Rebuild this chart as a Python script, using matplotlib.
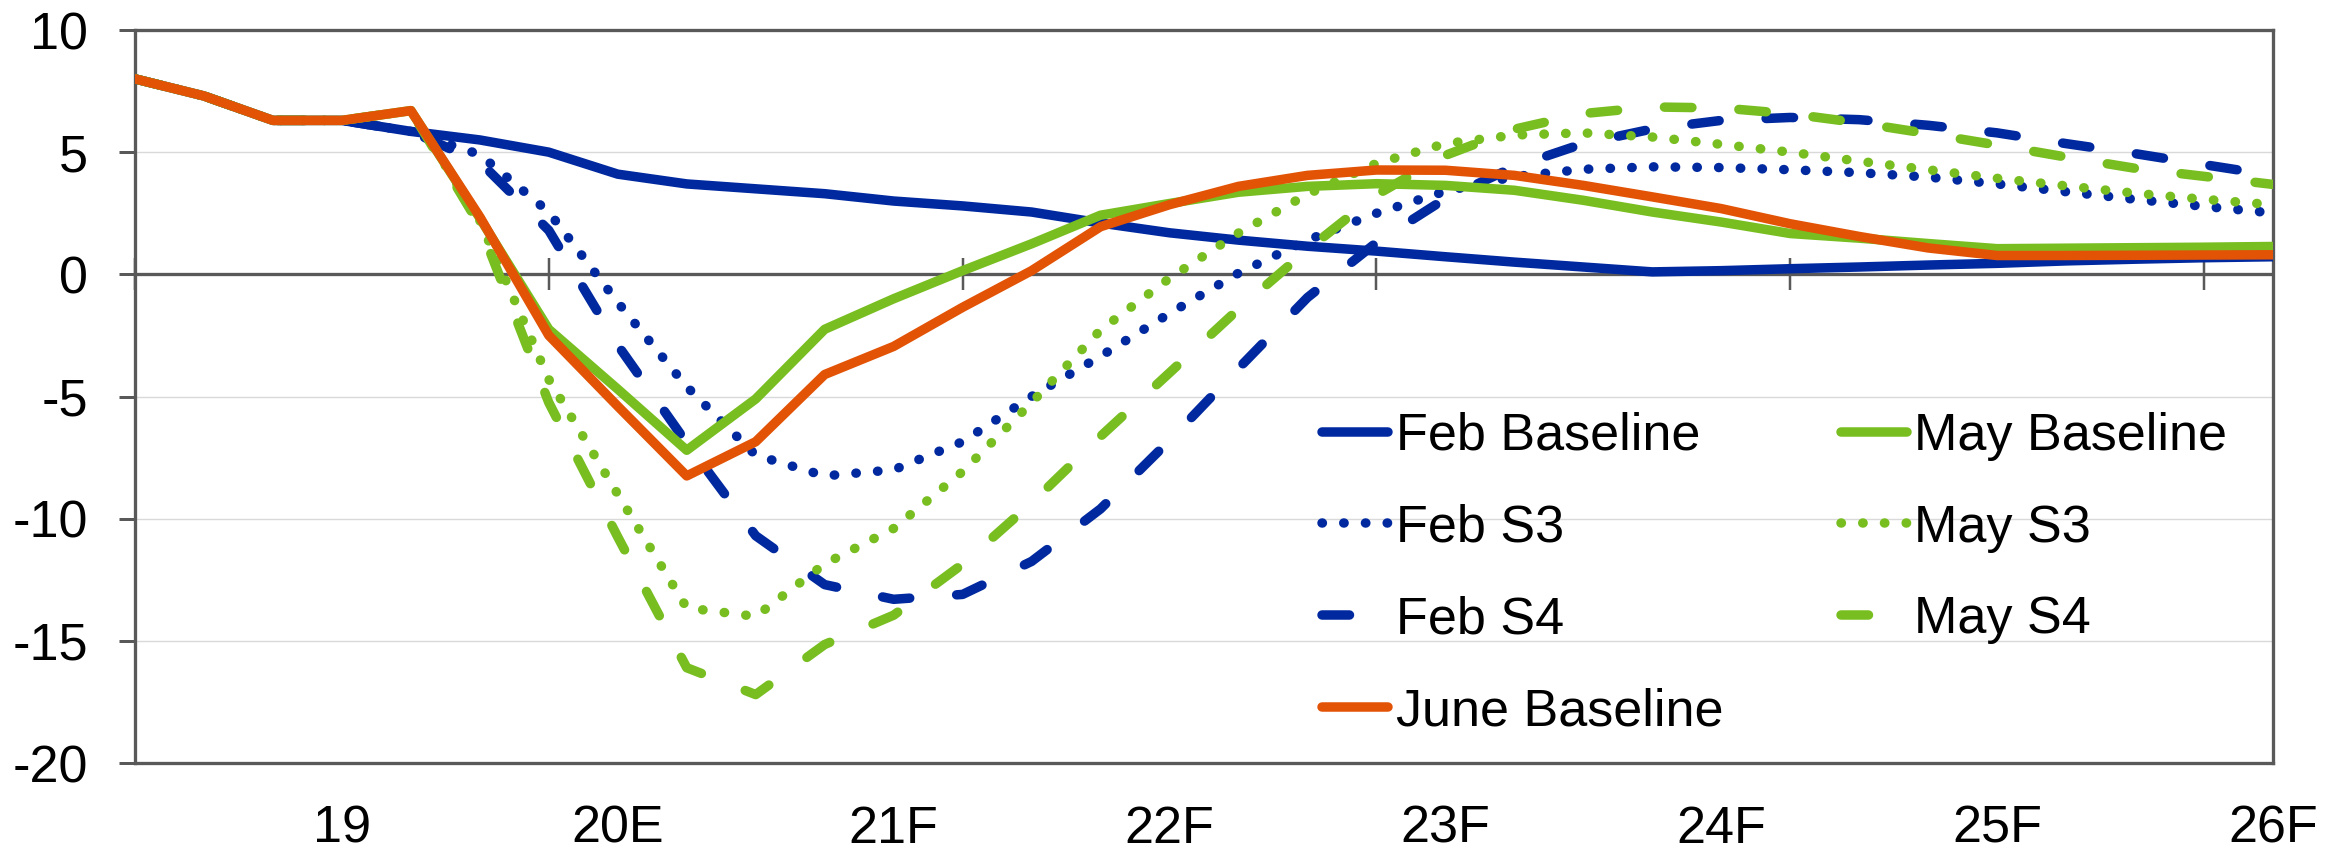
import matplotlib
matplotlib.use("Agg")
import matplotlib.pyplot as plt
import numpy as np

plt.rcParams["font.family"] = ["Liberation Sans", "DejaVu Sans"]
plt.rcParams["lines.scale_dashes"] = False
plt.rcParams["axes.unicode_minus"] = False

# %% Data: quarterly values, 2019Q1 .. 2026Q4
quarters = np.arange(32)
year_pos = [3, 7, 11, 15, 19, 23, 27, 31]
year_labels = ["19", "20E", "21F", "22F", "23F", "24F", "25F", "26F"]

feb_base = [8.0, 7.3, 6.3, 6.3, 5.85, 5.5, 5.0, 4.1, 3.7, 3.5, 3.3, 3.0,
            2.8, 2.55, 2.1, 1.7, 1.4, 1.15, 0.95, 0.72, 0.5, 0.3, 0.1, 0.15,
            0.23, 0.3, 0.38, 0.45, 0.55, 0.62, 0.68, 0.72]
feb_s3 = [8.0, 7.3, 6.3, 6.3, 5.85, 4.9, 2.55, -1.15, -4.6, -7.4, -8.25, -8.0,
          -6.85, -5.0, -3.35, -1.6, 0.05, 1.4, 2.5, 3.4, 4.0, 4.3, 4.4, 4.37,
          4.28, 4.16, 3.98, 3.7, 3.38, 3.07, 2.78, 2.51]
feb_s4 = [8.0, 7.3, 6.3, 6.3, 5.85, 4.6, 1.8, -2.9, -6.9, -10.7, -12.7, -13.3,
          -13.1, -11.75, -9.6, -6.8, -3.85, -0.95, 1.3, 3.1, 4.4, 5.35, 5.95, 6.3,
          6.42, 6.33, 6.1, 5.79, 5.35, 4.94, 4.49, 4.05]
may_base = [8.0, 7.3, 6.3, 6.3, 6.7, 2.3, -2.25, -4.7, -7.2, -5.1, -2.25, -1.0,
            0.15, 1.25, 2.42, 2.9, 3.36, 3.6, 3.71, 3.64, 3.44, 3.03, 2.55, 2.14,
            1.67, 1.48, 1.26, 1.05, 1.07, 1.09, 1.11, 1.14]
may_s3 = [8.0, 7.3, 6.3, 6.3, 6.7, 2.2, -4.3, -9.0, -13.65, -14.0, -11.85, -10.4,
          -8.07, -5.25, -2.28, -0.16, 1.69, 3.28, 4.54, 5.35, 5.7, 5.79, 5.62, 5.32,
          5.0, 4.63, 4.28, 3.93, 3.62, 3.32, 3.07, 2.85]
may_s4 = [8.0, 7.3, 6.3, 6.3, 6.7, 2.0, -5.25, -10.75, -16.1, -17.2, -15.15, -13.95,
          -11.86, -9.36, -6.63, -4.03, -1.42, 1.01, 3.25, 4.87, 5.94, 6.58, 6.85, 6.81,
          6.57, 6.2, 5.76, 5.29, 4.8, 4.34, 4.01, 3.68]
june_base = [8.0, 7.3, 6.3, 6.3, 6.7, 2.35, -2.5, -5.4, -8.25, -6.85, -4.1, -2.95,
             -1.35, 0.15, 1.95, 2.85, 3.6, 4.05, 4.27, 4.26, 4.05, 3.64, 3.17, 2.69,
             2.07, 1.55, 1.08, 0.77, 0.77, 0.78, 0.79, 0.8]

# %% Style
BLUE = "#0029A0"
GREEN = "#78BE20"
ORANGE = "#E25306"
AXIS = "#595959"
GRID = "#D9D9D9"

px = 72 / 100  # points per pixel at dpi 100
LW = 9.5 * px
DOT = (0, (0.3, 21.3 * px))
DASH = (0, (27.5 * px, 47 * px))
FS = 37.5

fig = plt.figure(figsize=(23.46, 8.5), dpi=100)
ax = fig.add_axes([135 / 2346, 1 - 763 / 850, (2273 - 135) / 2346, (763 - 30) / 850])

series = [
    ("Feb Baseline", feb_base, BLUE, "-"),
    ("Feb S3", feb_s3, BLUE, DOT),
    ("Feb S4", feb_s4, BLUE, DASH),
    ("May Baseline", may_base, GREEN, "-"),
    ("May S3", may_s3, GREEN, DOT),
    ("May S4", may_s4, GREEN, DASH),
    ("June Baseline", june_base, ORANGE, "-"),
]

handles = {}
for z, (name, vals, color, ls) in enumerate(series):
    line, = ax.plot(quarters, vals, color=color, linestyle=ls, lw=LW,
                    solid_capstyle="round", dash_capstyle="round",
                    solid_joinstyle="round", dash_joinstyle="round",
                    zorder=3 + z * 0.1, label=name)
    handles[name] = line

ax.set_xlim(0, 31)
ax.set_ylim(-20, 10)

ax.set_yticks(range(-20, 11, 5))
ax.set_yticklabels([str(v) for v in range(-20, 11, 5)])
ax.yaxis.grid(True, color=GRID, lw=1.4 * px, zorder=0)
ax.set_axisbelow(True)
ax.axhline(0, color=AXIS, lw=3.3 * px, zorder=2)

ax.set_xticks(year_pos, year_labels)
ax.tick_params(axis="x", length=0, pad=30, labelsize=FS)
ax.tick_params(axis="y", length=16 * px, width=3 * px, color=AXIS,
               pad=31 * px, labelsize=FS)

for sp in ax.spines.values():
    sp.set_color(AXIS)
    sp.set_linewidth(3.3 * px)

# cross tick marks on the zero line, every 6 quarters
ylo, yhi = ax.get_ylim()
sec = ax.secondary_xaxis((0 - ylo) / (yhi - ylo))
sec.set_xticks(range(0, 31, 6))
sec.tick_params(direction="inout", length=32 * px, width=2.5 * px, color=AXIS,
                labeltop=False, labelbottom=False)
for sp in sec.spines.values():
    sp.set_visible(False)

order = ["Feb Baseline", "Feb S3", "Feb S4", "June Baseline",
         "May Baseline", "May S3", "May S4"]
fs_px = FS / px
ax.legend([handles[n] for n in order], order, ncol=2, frameon=False,
          loc="upper left", bbox_to_anchor=(1322 / 2346, 1 - 412 / 850),
          bbox_transform=fig.transFigure, borderpad=0, borderaxespad=0,
          handlelength=66 / fs_px, handletextpad=8 / fs_px,
          columnspacing=117 / fs_px, labelspacing=0.82, fontsize=FS)

fig.savefig("out.png", dpi=100)
